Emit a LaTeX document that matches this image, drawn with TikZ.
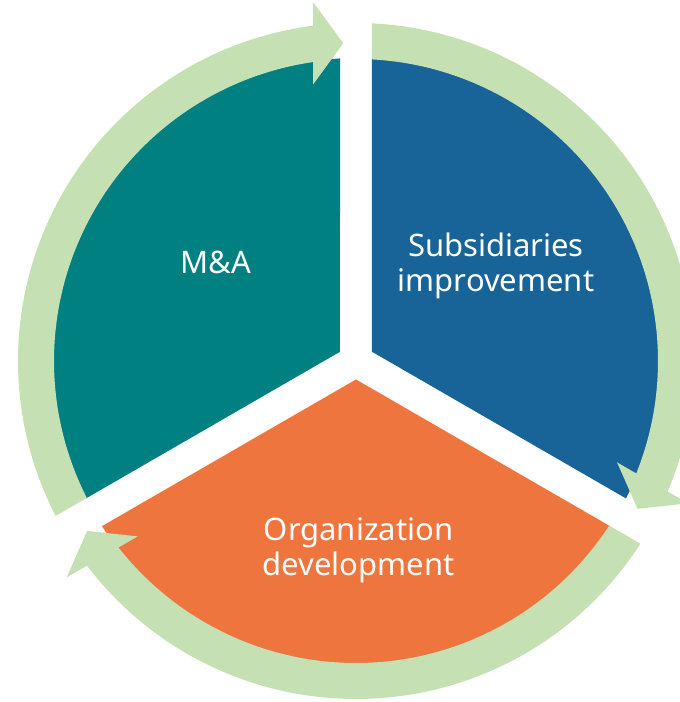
\documentclass[tikz,border=0pt]{standalone}
\usepackage{fontspec}
\setmainfont{Noto Sans}
\definecolor{sectorteal}{RGB}{0,128,128}
\definecolor{sectorblue}{RGB}{24,100,152}
\definecolor{sectororange}{RGB}{239,117,62}
\definecolor{ringgreen}{RGB}{197,224,178}
\tikzset{
  labeltext/.style={text=white, align=center, inner sep=0pt,
    font=\fontsize{31}{35}\selectfont, anchor=base},
  ringarrow/.style={fill=ringgreen},
}
\begin{document}
\begin{tikzpicture}[x=1pt,y=1pt]
\useasboundingbox (-356,-341) rectangle (324,361);
\clip (-356,-341) rectangle (324,361);
% sectors
\foreach \rot/\col in {0/sectorteal,-120/sectorblue,120/sectororange}{
  \begin{scope}[rotate=\rot]
    \fill[\col] (150:18.475pt) -- (93.027:303pt)
      arc[start angle=93.027, end angle=206.973, radius=303pt] -- cycle;
  \end{scope}
}
% ring arrows
\foreach \rot in {0,-120,120}{
  \begin{scope}[rotate=\rot]
    \fill[ringarrow] (206.963:302pt) -- (207.287:338pt)
      arc[start angle=207.287, end angle=97.268, radius=338pt]
      -- (-42.76,358.74) -- (-12.76,317.74) -- (-42.76,276.74)
      -- (98.141:302pt)
      arc[start angle=98.141, end angle=206.963, radius=302pt] -- cycle;
  \end{scope}
}
% labels (base anchor = baseline of the last line)
\node[labeltext] (ma) at (-140,88) {M\&A};
\node[labeltext] (sub) at (140,70) {Subsidiaries\\improvement};
\node[labeltext] (org) at (2.5,-214) {Organization\\development};
\end{tikzpicture}
\end{document}
